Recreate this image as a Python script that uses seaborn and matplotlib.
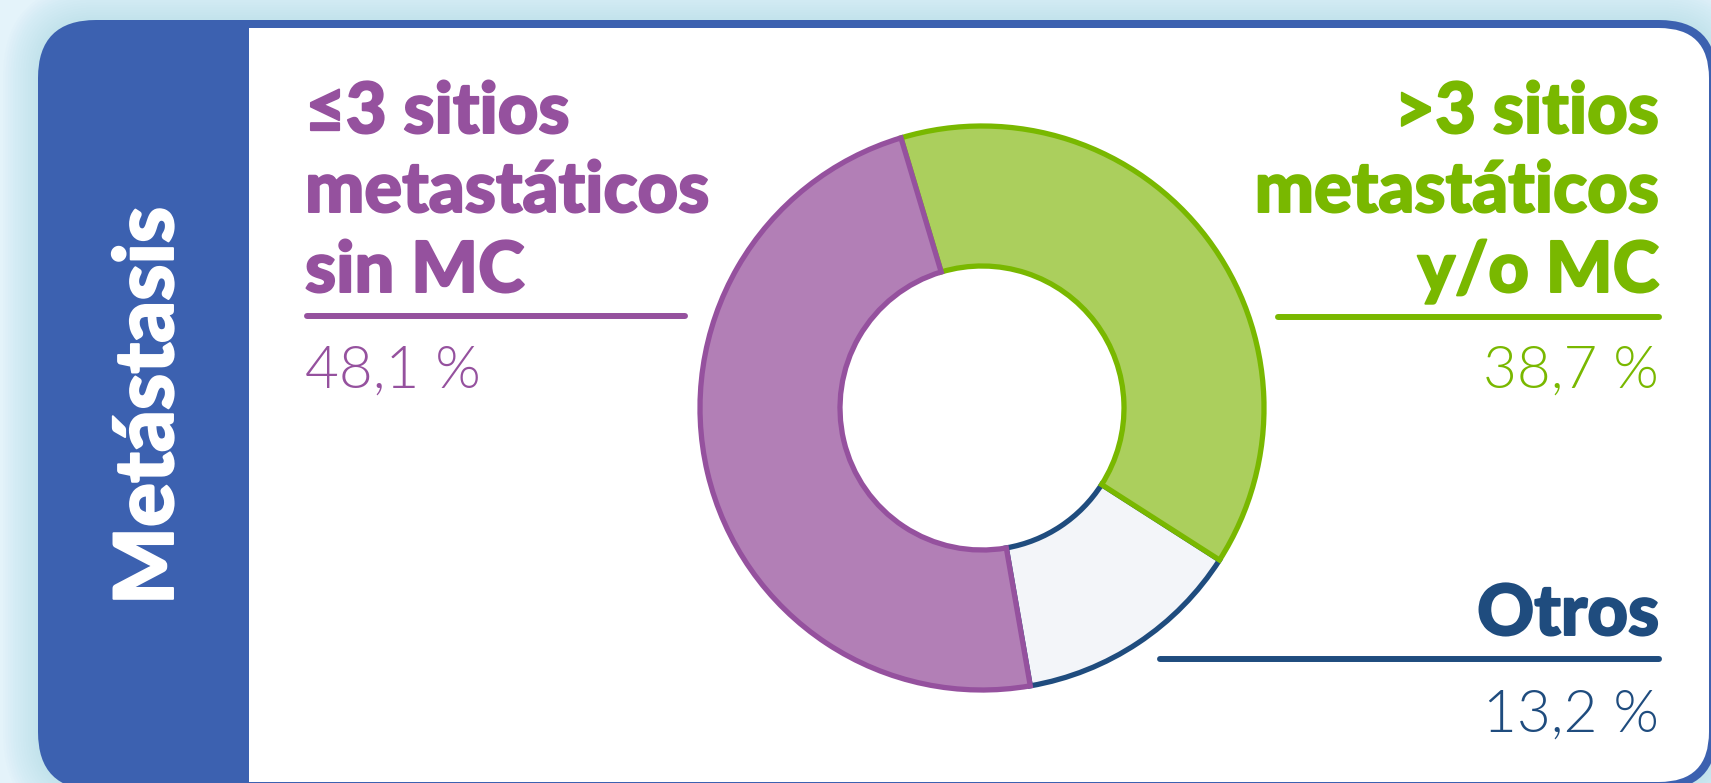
import matplotlib
matplotlib.use("Agg")
import matplotlib.pyplot as plt
from matplotlib.patches import FancyBboxPatch, Rectangle
from matplotlib import font_manager
import matplotlib.patheffects as pe
import seaborn as sns

# ---- data ----
categories = [">3 sitios\nmetastáticos\ny/o MC", "Otros", "≤3 sitios\nmetastáticos\nsin MC"]
values = [38.7, 13.2, 48.1]
value_labels = ["38,7 %", "13,2 %", "48,1 %"]
side_title = "Metástasis"

# ---- style ----
sns.set_theme(style="white")
plt.rcParams['font.family'] = ['Lato', 'DejaVu Sans']


def pick(cands, minw, maxw):
    for fam in cands:
        for f in font_manager.fontManager.ttflist:
            w = f.weight if isinstance(f.weight, int) else 400
            if f.name == fam and minw <= w <= maxw and f.style == "normal":
                return fam, w
    return "Lato", "bold"


HEAVY_FAM, HEAVY_W = pick(["Lato", "Roboto", "Inter", "Open Sans"], 800, 950)
LIGHT_FAM, LIGHT_W = pick(["Lato", "Roboto", "Inter", "Open Sans"], 280, 320)

PANEL = "#3c61b0"
PURPLE_T, PURPLE_F = "#95519e", "#b27fb6"
GREEN_T, GREEN_F = "#79b800", "#abcf5d"
NAVY_T, NAVY_F = "#1f4c7e", "#f3f5f9"
fills = sns.color_palette([GREEN_F, NAVY_F, PURPLE_F])
edges = [GREEN_T, NAVY_T, PURPLE_T]

W, H = 1711, 783
fig = plt.figure(figsize=(W / 100, H / 100), dpi=100)
fig.patch.set_facecolor("#e4f3fa")
renderer = fig.canvas.get_renderer()

bg = fig.add_axes([0, 0, 1, 1], zorder=0)
bg.set_xlim(0, W)
bg.set_ylim(H, 0)
bg.axis("off")


def fit_size(s, fam, weight, target_px, base=40):
    t = fig.text(0, 0, s, fontsize=base, family=[fam, "DejaVu Sans"], fontweight=weight)
    w = t.get_window_extent(renderer=renderer).width
    t.remove()
    return base * target_px / w


HEAD_FS = fit_size("metastáticos", HEAVY_FAM, HEAVY_W, 404)
SIDE_FS = fit_size(side_title, HEAVY_FAM, HEAVY_W, 398)
PCT_FS = fit_size("48,1 %", LIGHT_FAM, LIGHT_W, 176)

# soft glow around card
for i in range(14, 0, -1):
    g = FancyBboxPatch((38 - i * 2.5, 20 - i * 2.5), 1679 + i * 5, 770 + i * 5,
                       boxstyle=f"round,pad=0,rounding_size={58 + i * 2.5}",
                       facecolor="#9fd3ea", edgecolor="none", alpha=0.035)
    bg.add_patch(g)

card = FancyBboxPatch((38, 20), 1679, 770, boxstyle="round,pad=0,rounding_size=58",
                      facecolor=PANEL, edgecolor="none")
bg.add_patch(card)
inner = FancyBboxPatch((249, 28), 1460, 754, boxstyle="round,pad=0,rounding_size=50",
                       facecolor="white", edgecolor="none")
bg.add_patch(inner)
bg.add_patch(Rectangle((249, 28), 80, 754, facecolor="white", edgecolor="none"))

# side title
bg.text(173, 406, side_title, rotation=90, rotation_mode="anchor", ha="center",
        va="baseline", color="white", fontsize=SIDE_FS,
        family=[HEAVY_FAM, "DejaVu Sans"], fontweight=HEAVY_W,
        path_effects=[pe.withStroke(linewidth=1.4, foreground="white")])

# ---- donut ----
cx, cy, r = 982, 408, 282
dax = fig.add_axes([(cx - r) / W, 1 - (cy + r) / H, 2 * r / W, 2 * r / H], zorder=2)
wedges, _ = dax.pie(values, startangle=106.7, counterclock=False, radius=1,
                    colors=fills, wedgeprops=dict(width=140 / 282))
for w, ec, z in zip(wedges, edges, [2, 1, 3]):
    w.set_edgecolor(ec)
    w.set_linewidth(3.8)
    w.set_joinstyle("miter")
    w.set_zorder(z)
    w.set_clip_on(False)
dax.set_xlim(-1, 1)
dax.set_ylim(-1, 1)
dax.set_aspect("equal")
dax.axis("off")

# ---- labels ----
def heading(lines, x, baselines, color, ha):
    for ln, yb in zip(lines, baselines):
        bg.text(x, yb, ln, ha=ha, va="baseline", color=color, fontsize=HEAD_FS,
                family=[HEAVY_FAM, "DejaVu Sans"], fontweight=HEAVY_W,
                path_effects=[pe.withStroke(linewidth=1.4, foreground=color)])

heading(categories[2].split("\n"), 305, [133, 212, 292], PURPLE_T, "left")
heading(categories[0].split("\n"), 1659, [133, 212, 292], GREEN_T, "right")
heading([categories[1]], 1659, [635], NAVY_T, "right")

bg.plot([307, 685], [316, 316], color=PURPLE_T, lw=4.3, solid_capstyle="round")
bg.plot([1278, 1659], [317, 317], color=GREEN_T, lw=4.3, solid_capstyle="round")
bg.plot([1160, 1659], [659, 659], color=NAVY_T, lw=4.3, solid_capstyle="round")

for s, x, y, c, ha in [(value_labels[2], 305, 388, PURPLE_T, "left"),
                       (value_labels[0], 1659, 388, GREEN_T, "right"),
                       (value_labels[1], 1659, 732, NAVY_T, "right")]:
    bg.text(x, y, s, ha=ha, va="baseline", color=c, fontsize=PCT_FS,
            family=[LIGHT_FAM, "DejaVu Sans"], fontweight=LIGHT_W)

fig.savefig("out.png", dpi=100, facecolor=fig.get_facecolor())
